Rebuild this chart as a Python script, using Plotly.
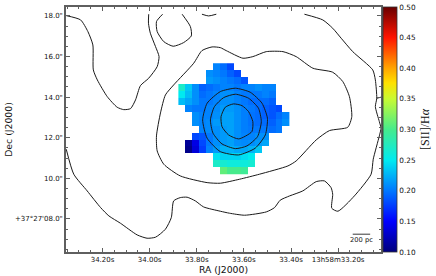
import plotly.graph_objects as go

# [SII]/Halpha map: each row is a Dec row (top to bottom), with its first RA column index
ROW_START = [5, 4, 4, 0, 0, 0, 1, 2, 2, 3, 2, 1, 1, 5, 5, 6]
ROW_VALUES = [
    [.205, .195, .18],
    [.21, .205, .20, .19, .18],
    [.215, .21, .205, .20, .195, .185],
    [.27, .235, .21, .19, .195, .20, .205, .205, .20, .205, .205, .21, .205, .205],
    [.25, .23, .21, .195, .20, .205, .21, .21, .205, .20, .20, .20, .205, .20],
    [.23, .22, .21, .20, .20, .205, .21, .21, .205, .20, .195, .195, .195, .19],
    [.205, .20, .20, .205, .208, .215, .215, .21, .203, .20, .195, .19, .185, .18],
    [.21, .205, .205, .21, .218, .218, .21, .203, .198, .195, .19, .185, .195, .205],
    [.21, .205, .208, .215, .218, .218, .21, .203, .198, .195, .195, .19, .20, .21],
    [.205, .208, .21, .215, .218, .21, .203, .20, .20, .20, .195, .20],
    [.18, .185, .20, .21, .215, .218, .21, .205, .205, .21, .21],
    [.11, .14, .18, .20, .21, .215, .218, .21, .208, .21, .215, .22],
    [.105, .135, .175, .205, .215, .225, .225, .22, .22, .225, .235],
    [.245, .24, .24, .24, .245, .25],
    [.27, .265, .26, .26, .26, .265],
    [.31, .30, .30, .295],
]
N_COLS = 16
RA_FIRST, RA_STEP = 33.8632, -0.0295
DEC_FIRST, DEC_STEP = 15.498, -0.3429

# Contours (RA seconds, Dec arcsec)
C1_RA = [34.354, 34.293, 34.262, 34.241, 34.239, 34.222, 34.180, 34.138, 34.110, 34.081, 34.060, 34.039, 34.004, 33.968, 33.960, 33.975, 33.997, 34.005, 34.004]
C1_DEC = [18.015, 17.803, 17.227, 16.571, 15.340, 14.847, 14.025, 13.503, 13.384, 13.434, 13.862, 14.567, 14.931, 15.502, 15.995, 16.488, 17.148, 17.640, 18.084]
C2_RA = [33.945, 33.971, 33.968, 33.940, 33.900, 33.856, 33.823, 33.827, 33.862]
C2_DEC = [18.084, 17.719, 17.227, 16.734, 16.507, 16.685, 17.015, 17.473, 18.084]
C3_RA = [33.778, 33.750, 33.717]
C3_DEC = [18.084, 18.0, 18.084]
C4_RA = [33.971, 33.954, 33.933, 33.898, 33.813, 33.778, 33.735, 33.700, 33.675, 33.604, 33.562, 33.505, 33.434, 33.378, 33.307, 33.223, 33.180, 33.152, 33.142, 33.159, 33.237, 33.293, 33.378, 33.413, 33.534, 33.618, 33.700, 33.756, 33.870, 33.940, 33.968, 33.971]
C4_DEC = [12.089, 13.222, 14.108, 14.601, 15.670, 16.291, 16.473, 16.438, 16.291, 15.916, 15.995, 16.241, 16.241, 15.995, 15.424, 15.227, 14.764, 14.025, 13.040, 12.517, 12.350, 11.892, 10.857, 10.611, 10.202, 9.956, 9.759, 9.788, 10.118, 10.695, 11.350, 12.089]
C5_RA = [34.354, 34.322, 34.265, 34.208, 34.173, 34.124, 34.053, 34.011, 33.975, 33.933, 33.908, 33.898, 33.870, 33.841, 33.806, 33.771, 33.700, 33.661, 33.597, 33.505, 33.470, 33.446, 33.406, 33.350, 33.293, 33.258, 33.230, 33.223, 33.227, 33.201, 33.131, 33.060, 33.051, 33.025, 33.018, 33.025, 33.042, 33.036, 33.042, 33.053, 33.138, 33.187, 33.223, 33.265, 33.343]
C5_DEC = [11.434, 10.202, 9.379, 8.557, 8.148, 7.788, 7.212, 7.049, 7.099, 7.493, 8.064, 8.887, 9.049, 9.069, 8.887, 8.591, 8.379, 8.281, 8.182, 8.345, 8.557, 8.921, 9.133, 9.379, 9.837, 9.872, 9.542, 9.217, 8.527, 8.379, 9.133, 10.202, 10.941, 12.089, 12.468, 12.793, 13.532, 13.946, 14.847, 15.340, 16.241, 16.901, 17.394, 17.803, 18.084]
C6_RA = [33.036, 33.018]
C6_DEC = [13.946, 13.996]
R1_RA = [33.636, 33.573, 33.523, 33.500, 33.509, 33.552, 33.622, 33.700, 33.756, 33.775, 33.756, 33.700, 33.636]
R1_DEC = [14.438, 14.241, 13.700, 12.961, 12.138, 11.483, 11.153, 11.315, 11.975, 12.877, 13.700, 14.271, 14.438]
R2_RA = [33.636, 33.580, 33.538, 33.526, 33.542, 33.587, 33.636, 33.693, 33.731, 33.742, 33.725, 33.686, 33.636]
R2_DEC = [14.143, 13.946, 13.453, 12.793, 12.054, 11.596, 11.463, 11.695, 12.222, 12.877, 13.532, 13.975, 14.143]
R3_RA = [33.644, 33.608, 33.580, 33.562, 33.566, 33.622, 33.665, 33.693, 33.697, 33.679, 33.644]
R3_DEC = [13.665, 13.581, 13.286, 12.793, 12.301, 11.941, 12.138, 12.547, 13.040, 13.503, 13.665]

CONTOURS = [(C1_RA, C1_DEC), (C2_RA, C2_DEC), (C3_RA, C3_DEC), (C4_RA, C4_DEC),
            (C5_RA, C5_DEC), (C6_RA, C6_DEC), (R1_RA, R1_DEC), (R2_RA, R2_DEC), (R3_RA, R3_DEC)]

RA_TICKS = [34.2, 34.0, 33.8, 33.6, 33.4, 33.2]
RA_LABELS = ["34.20s", "34.00s", "33.80s", "33.60s", "33.40s", "13h58m33.20s"]
DEC_TICKS = [18, 16, 14, 12, 10, 8]
DEC_LABELS = ["18.0\"", "16.0\"", "14.0\"", "12.0\"", "10.0\"", "+37°27'08.0\""]
CBAR_TICKS = [0.10, 0.15, 0.20, 0.25, 0.30, 0.35, 0.40, 0.45, 0.50]

COLORS = [
    [0.0, "rgb(0,0,125)"], [0.125, "rgb(0,0,255)"], [0.25, "rgb(0,120,255)"],
    [0.375, "rgb(0,235,240)"], [0.5, "rgb(70,235,140)"], [0.625, "rgb(200,250,50)"],
    [0.69, "rgb(255,225,0)"], [0.75, "rgb(255,165,0)"], [0.875, "rgb(255,20,0)"], [1.0, "rgb(105,0,0)"],
]

FRAME = "#5f5f5f"
TEXT = "#111111"
FONT = "DejaVu Sans"

z = []
for start, vals in zip(ROW_START, ROW_VALUES):
    z.append([None] * start + vals + [None] * (N_COLS - start - len(vals)))

fig = go.Figure()
fig.add_trace(go.Heatmap(
    z=z, x0=RA_FIRST, dx=RA_STEP, y0=DEC_FIRST, dy=DEC_STEP,
    zmin=0.10, zmax=0.50, colorscale=COLORS, hoverongaps=False,
    colorbar=dict(
        thickness=13.5, thicknessmode="pixels", len=1, lenmode="fraction",
        x=1.0, xanchor="left", xpad=1.5, y=0.5, yanchor="middle", ypad=0,
        outlinecolor="#333333", outlinewidth=0.8,
        tickvals=CBAR_TICKS, ticktext=[f"{t:.2f}" for t in CBAR_TICKS],
        ticks="", tickfont=dict(family=FONT, size=7.3, color=TEXT),
        title=dict(text="[SII]/H<i>α</i>", side="right",
                   font=dict(family="Liberation Serif", size=12, color=TEXT)),
    ),
))
for ra, dec in CONTOURS:
    fig.add_trace(go.Scatter(x=ra, y=dec, mode="lines", showlegend=False, hoverinfo="skip",
                             line=dict(color="#1a1a1a", width=1, shape="spline", smoothing=0.6)))

fig.add_shape(type="line", x0=33.138, x1=33.064, y0=7.247, y1=7.247,
              line=dict(color="#222222", width=0.9))
fig.add_annotation(x=33.101, y=6.95, text="200 pc", showarrow=False,
                   font=dict(family=FONT, size=6.7, color=TEXT))

axis_common = dict(showgrid=False, zeroline=False, showline=True, linecolor=FRAME, linewidth=1.5,
                   mirror="allticks", ticks="inside", ticklen=4, tickwidth=0.8, tickcolor=FRAME,
                   tickfont=dict(family=FONT, size=7, color=TEXT))
fig.update_xaxes(range=[34.355, 33.018], tickmode="array", tickvals=RA_TICKS, ticktext=RA_LABELS,
                 minor=dict(dtick=0.05, ticks="inside", ticklen=2, tickwidth=0.7, tickcolor=FRAME),
                 title=dict(text="RA (J2000)", standoff=3, font=dict(family=FONT, size=9.3, color=TEXT)),
                 **axis_common)
fig.update_yaxes(range=[6.37, 18.44], tickmode="array", tickvals=DEC_TICKS, ticktext=DEC_LABELS,
                 minor=dict(dtick=0.5, ticks="inside", ticklen=2, tickwidth=0.7, tickcolor=FRAME),
                 title=dict(text="Dec (J2000)", standoff=1, font=dict(family=FONT, size=9.3, color=TEXT)),
                 **axis_common)
fig.update_layout(width=436, height=276, margin=dict(l=65.5, r=55, t=7, b=24, autoexpand=False),
                  paper_bgcolor="white", plot_bgcolor="white", showlegend=False)
fig.write_html("out.html", config={"displayModeBar": False},
               post_script="document.body.style.margin='0';document.documentElement.style.overflow='hidden';")
